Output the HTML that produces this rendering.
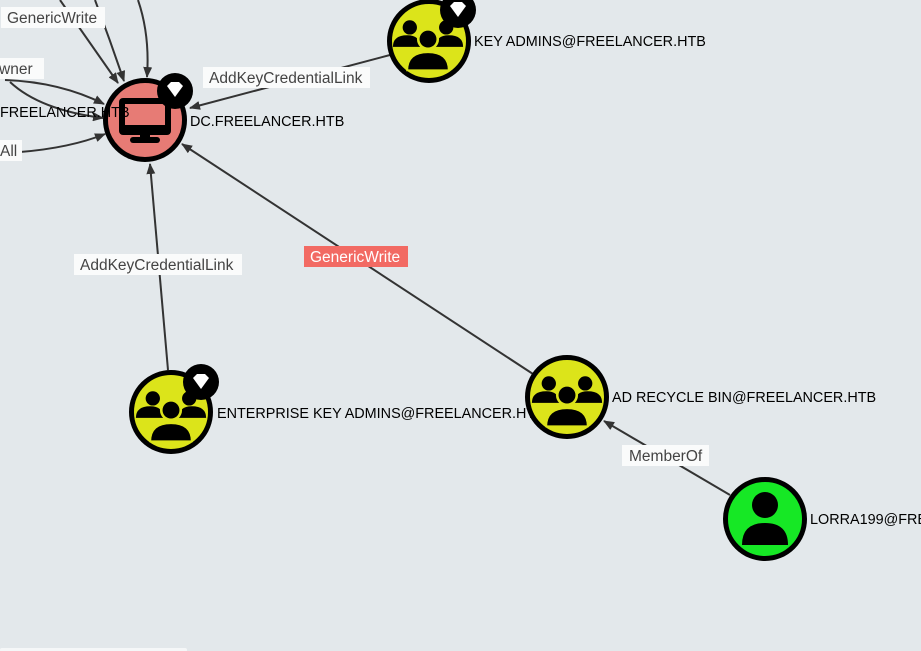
<!DOCTYPE html>
<html><head><style>
html,body{margin:0;padding:0;background:#e3e8eb;width:921px;height:651px;overflow:hidden}
svg{display:block}
text{font-family:"Liberation Sans",sans-serif}
</style></head><body>
<svg width="921" height="651" viewBox="0 0 921 651">
<defs>
<marker id="a" markerWidth="11" markerHeight="9" refX="10" refY="4.5" orient="auto" markerUnits="userSpaceOnUse">
<path d="M0,0 L11,4.5 L0,9 z" fill="#333"/></marker>
<g id="grp">
<circle cx="-14" cy="-12" r="5.5" fill="#000"/>
<circle cx="14" cy="-12" r="5.5" fill="#000"/>
<path d="M-27,3 Q-27,-6 -16,-6 Q-6,-6 -6,3 z" fill="#000"/>
<path d="M27,3 Q27,-6 16,-6 Q6,-6 6,3 z" fill="#000"/>
<circle cx="0" cy="-3" r="8.5" fill="#dce41a"/>
<circle cx="0" cy="-3" r="6.5" fill="#000"/>
<path d="M-16,21 Q-16,7 0,7 Q16,7 16,21 z" fill="#000" stroke="#dce41a" stroke-width="1.5"/>
</g>
<g id="gem">
<path d="M-8,-4 L-4,-8 L4,-8 L8,-4 L0,7 z" fill="#fff"/>
</g>
</defs>

<!-- edges -->
<g stroke="#333" stroke-width="2" fill="none" marker-end="url(#a)">
<path d="M60,0 L118,83"/>
<path d="M95,0 Q110,40 124,81"/>
<path d="M138,0 Q150,35 147,77"/>
<path d="M5,80 Q60,82 104,104"/>
<path d="M10,82 Q40,110 103,118"/>
<path d="M20,152 Q70,148 105,134"/>
<path d="M390,55 L190,108"/>
<path d="M168,370 L150,164"/>
<path d="M533,374 L182,144"/>
<path d="M730,495 L604,421"/>
</g>

<!-- labels -->
<rect x="1" y="7" width="104" height="21" fill="#fafbfb"/>
<text x="7" y="23" font-size="15.5" fill="#444">GenericWrite</text>
<rect x="-2" y="58" width="46" height="21" fill="#fafbfb"/>
<text x="-13" y="74" font-size="15.5" fill="#444">Owner</text>
<rect x="-2" y="140" width="24" height="21" fill="#fafbfb"/>
<text x="0" y="156" font-size="15.5" fill="#444">All</text>
<rect x="203" y="67" width="167" height="21" fill="#fafbfb"/>
<text x="209" y="83" font-size="15.5" fill="#444">AddKeyCredentialLink</text>
<rect x="74" y="254" width="168" height="21" fill="#fafbfb"/>
<text x="80" y="270" font-size="15.5" fill="#444">AddKeyCredentialLink</text>
<rect x="304" y="246" width="104" height="21" fill="#f26a63"/>
<text x="310" y="262" font-size="15.5" fill="#fff">GenericWrite</text>
<rect x="622" y="445" width="87" height="21" fill="#fafbfb"/>
<text x="629" y="461" font-size="15.5" fill="#444">MemberOf</text>

<!-- DC node -->
<circle cx="145" cy="120" r="39.5" fill="#e77b75" stroke="#000" stroke-width="5"/>
<rect x="119" y="98" width="52" height="37" rx="4" fill="#000"/>
<rect x="125" y="104" width="40" height="21" fill="#e77b75"/>
<rect x="140" y="134" width="10" height="6" fill="#000"/>
<rect x="130" y="137" width="30" height="6" rx="3" fill="#000"/>
<circle cx="175" cy="91" r="18" fill="#000"/>
<use href="#gem" transform="translate(175,90)"/>
<text x="190" y="126" font-size="14.4" fill="#000">DC.FREELANCER.HTB</text>
<text x="0" y="117" font-size="14.4" fill="#000">FREELANCER.HTB</text>

<!-- KEY ADMINS -->
<circle cx="429" cy="41" r="39.5" fill="#dce41a" stroke="#000" stroke-width="5"/>
<use href="#grp" transform="translate(428,43) scale(1.3)"/>
<circle cx="458" cy="10" r="18" fill="#000"/>
<use href="#gem" transform="translate(458,10)"/>
<text x="474" y="46" font-size="14.4" fill="#000">KEY ADMINS@FREELANCER.HTB</text>

<!-- ENTERPRISE -->
<circle cx="171" cy="412" r="39.5" fill="#dce41a" stroke="#000" stroke-width="5"/>
<use href="#grp" transform="translate(171,414) scale(1.3)"/>
<circle cx="201" cy="382" r="18" fill="#000"/>
<use href="#gem" transform="translate(201,382)"/>
<text x="217" y="418" font-size="14.4" fill="#000">ENTERPRISE KEY ADMINS@FREELANCER.HTB</text>

<!-- AD RECYCLE -->
<circle cx="567" cy="397" r="39.5" fill="#dce41a" stroke="#000" stroke-width="5"/>
<use href="#grp" transform="translate(567,399) scale(1.3)"/>
<text x="612" y="402" font-size="14.4" fill="#000">AD RECYCLE BIN@FREELANCER.HTB</text>

<!-- LORRA -->
<circle cx="765" cy="519" r="39.5" fill="#16e825" stroke="#000" stroke-width="5"/>
<circle cx="765" cy="505" r="13" fill="#000"/>
<path d="M742,545 Q742,523 765,523 Q788,523 788,545 z" fill="#000"/>
<text x="810" y="524" font-size="14.4" fill="#000">LORRA199@FREELANCER.HTB</text>

<rect x="0" y="648" width="187" height="4" rx="2" fill="#f5f7f8"/>
</svg>
</body></html>
